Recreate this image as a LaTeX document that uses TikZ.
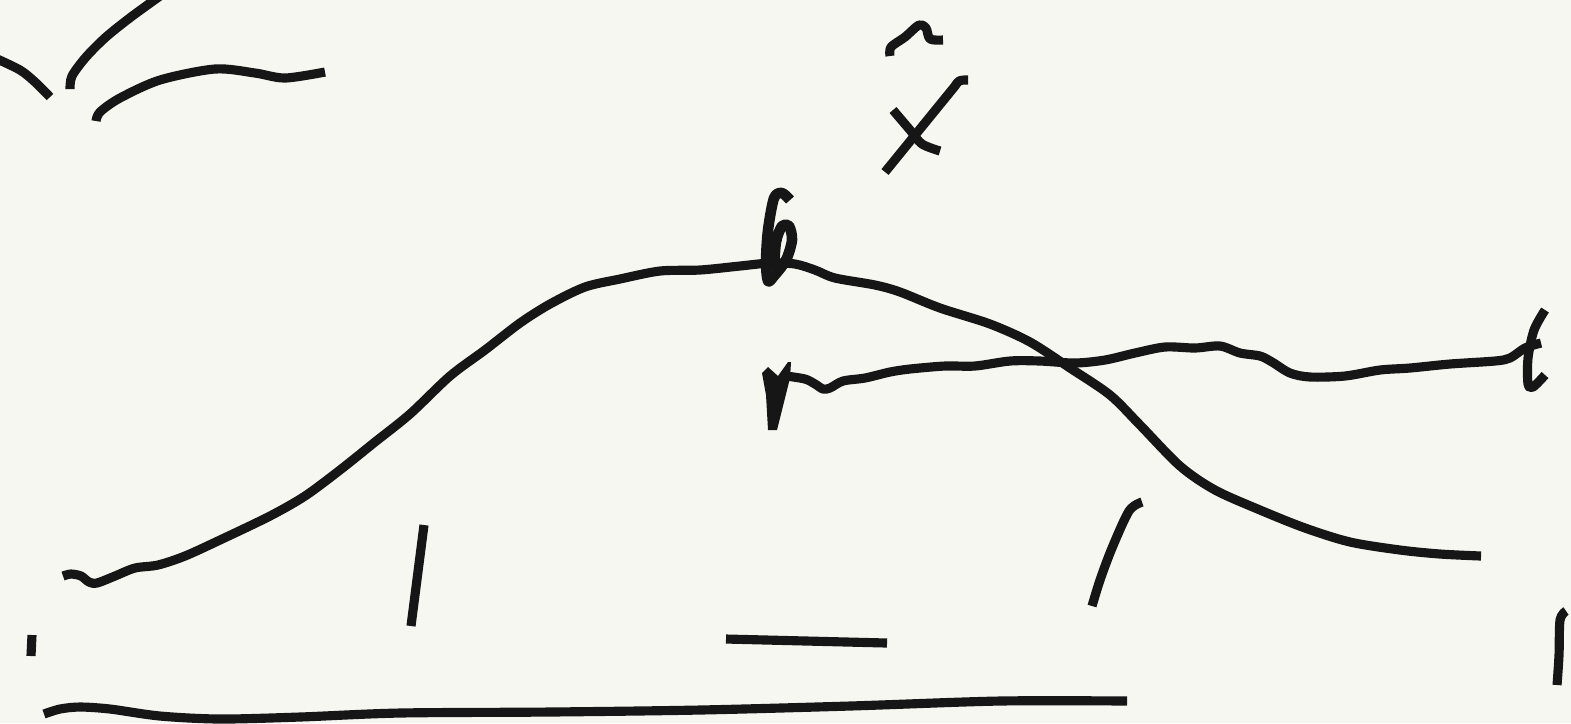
\documentclass[tikz,border=0pt]{standalone}
\definecolor{paper}{RGB}{247,247,242}
\definecolor{inkc}{RGB}{22,22,22}
\tikzset{ink/.style={draw=inkc,line width=2.6pt,line cap=butt,line join=round}}
\begin{document}
\begin{tikzpicture}[x=0.01cm,y=-0.01cm]
                \fill[paper] (0,0) rectangle (1571,723);
                \useasboundingbox (0,0) rectangle (1571,723);
                \begin{scope}
                \clip (0,0) rectangle (1571,723);
                % top left strokes
                \draw[ink] plot[smooth] coordinates {(-5,58) (20,70) (35,82) (50,97)};
                \draw[ink] plot[smooth] coordinates {(70,89) (72,76) (86,57) (106,37) (131,17) (160,-4)};
                \draw[ink] plot[smooth] coordinates {(96,121) (100,112) (120,98) (160,80) (215,69) (255,73) (285,78) (325,72)};
                % caret and cross
                \draw[ink] plot[smooth] coordinates {(890,56) (891,47) (905,37) (919,25) (926,28) (930,39) (943,40)};
                \draw[ink] (885,172) -- (955,86) .. controls (959,80) .. (968,80);
                \draw[ink] plot[smooth] coordinates {(893,110) (910,130) (922,144) (940,151)};
                % b
                \draw[ink,line width=3pt] plot[smooth] coordinates {(790,200) (782,193) (774,198) (768,230) (766,262) (768,281) (774,276) (786,260) (792,240) (789,226) (782,226) (776,242) (774,270)};
                % main curve
                \draw[ink] plot[smooth] coordinates {(63,576) (71,574) (81,576) (89,582) (97,583) (115,576) (135,568) (158,565) (185,556) (220,540) (270,516) (305,496) (340,470) (375,442) (410,414) (450,376) (485,350) (520,323) (550,304) (585,287) (620,279) (660,271) (700,270) (740,266) (770,263) (795,264) (815,270) (835,278) (875,285) (900,292) (940,308) (990,324) (1030,342) (1070,368) (1110,395) (1140,425) (1180,466) (1215,490) (1260,510) (1305,528) (1350,542) (1400,550) (1440,554) (1481,556)};
                % r and wavy line
                \fill[inkc] (762,373) -- (768,367) -- (778,376) -- (788,362) -- (791,362) -- (790,378) -- (777,430) -- (768,430) -- (766,395) -- cycle;
                \draw[ink] plot[smooth] coordinates {(786,376) (805,379) (815,384) (823,389) (830,388) (843,381) (865,378) (890,372) (910,369) (945,366) (975,366) (1010,361) (1040,361) (1075,363) (1105,360) (1135,353) (1165,347) (1195,348) (1220,346) (1240,353) (1260,356) (1272,362) (1290,373) (1310,377) (1345,376) (1380,370) (1410,368) (1450,364) (1495,361) (1510,358) (1525,348) (1541,343)};
                % t
                \draw[ink] plot[smooth] coordinates {(1545,310) (1534,330) (1528,358) (1528,384) (1533,387) (1545,375)};
                % short strokes
                \draw[ink] (32,635) -- (31,656);
                \draw[ink] (424,525) -- (411,626);
                \draw[ink] (726,639) -- (887,643);
                \draw[ink] plot[smooth] coordinates {(1142,502) (1129,511) (1112,548) (1100,580) (1092,606)};
                \draw[ink] plot[smooth] coordinates {(1566,611) (1560,620) (1559,655) (1557,685)};
                % bottom line
                \draw[ink] plot[smooth] coordinates {(44,714) (60,709) (80,707) (110,709) (160,716) (220,719) (300,717) (400,713) (550,712) (700,710) (850,706) (1000,701) (1127,701)};
                \end{scope}
\end{tikzpicture}
\end{document}
